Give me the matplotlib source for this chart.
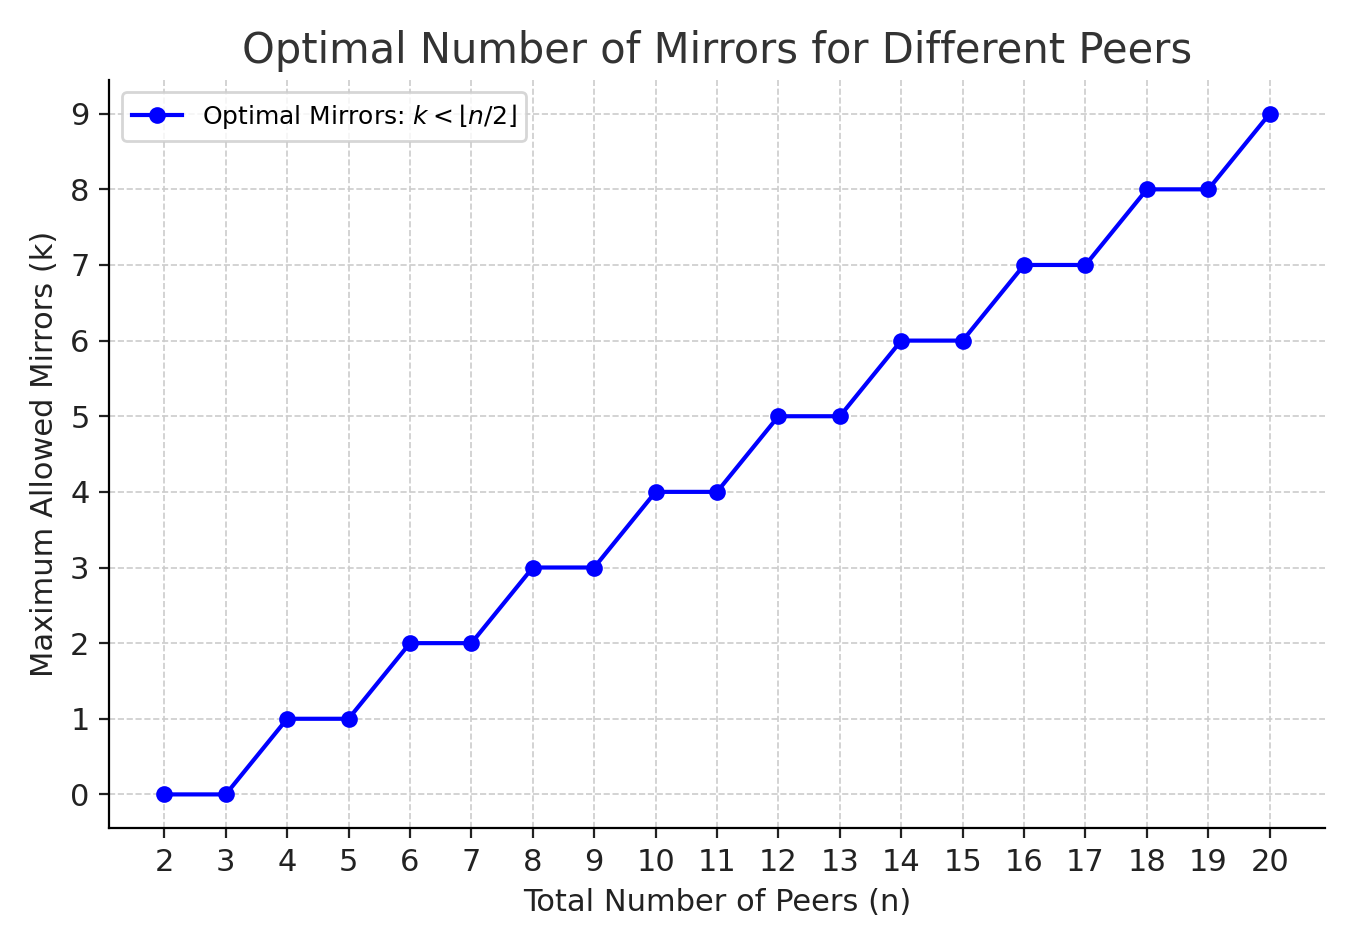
import matplotlib.pyplot as plt

peers = [2, 3, 4, 5, 6, 7, 8, 9, 10, 11, 12, 13, 14, 15, 16, 17, 18, 19, 20]
mirrors = [0, 0, 1, 1, 2, 2, 3, 3, 4, 4, 5, 5, 6, 6, 7, 7, 8, 8, 9]

fig, ax = plt.subplots(figsize=(6.775, 4.735), dpi=200)
ax.plot(peers, mirrors, marker="o", color="blue", linewidth=1.5, markersize=5,
        label=r"Optimal Mirrors: $k < \lfloor n/2 \rfloor$")

ax.set_title("Optimal Number of Mirrors for Different Peers", fontsize=15, color="#333333")
ax.set_xlabel("Total Number of Peers (n)", fontsize=11, color="#222222")
ax.set_ylabel("Maximum Allowed Mirrors (k)", fontsize=11, color="#222222")
ax.set_xticks(peers)
ax.set_yticks(range(0, 10))
ax.tick_params(labelsize=11, colors="#222222")
ax.grid(True, linestyle="--", linewidth=0.6, color="#cccccc")
ax.spines["top"].set_visible(False)
ax.spines["right"].set_visible(False)
ax.legend(loc="upper left", fontsize=9)

plt.tight_layout()
plt.savefig("out.png", dpi=200)
